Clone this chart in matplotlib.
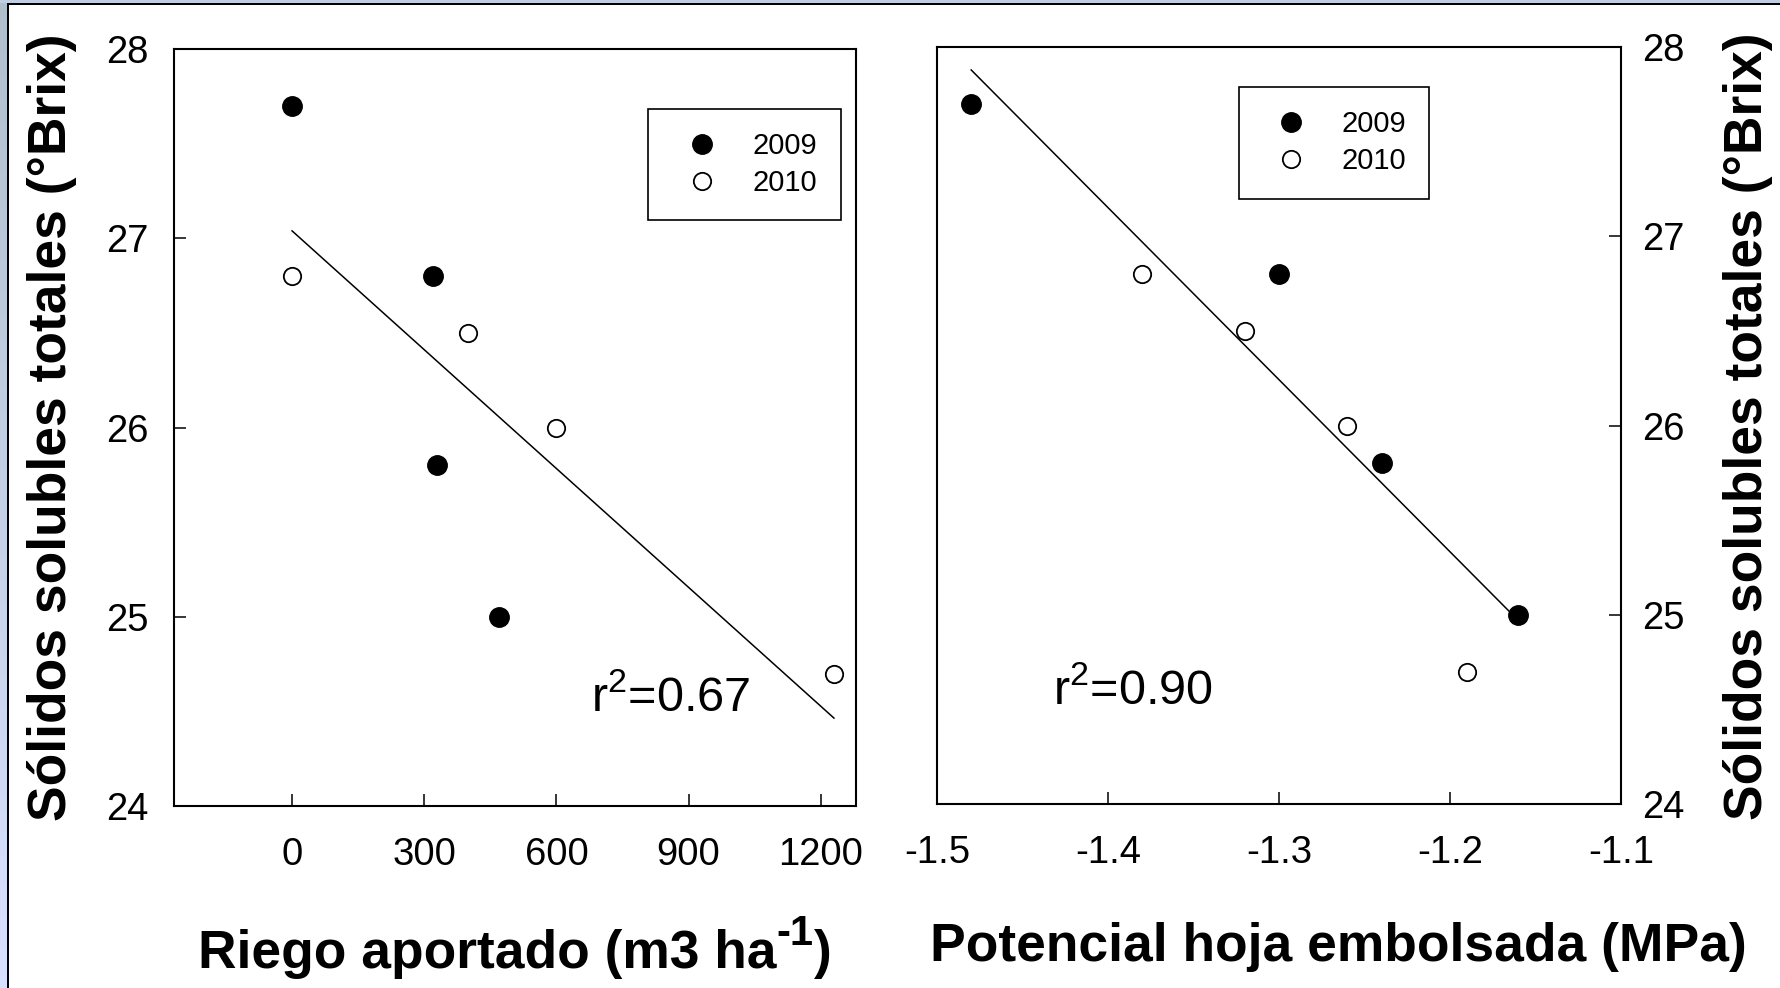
import numpy as np
import matplotlib
matplotlib.use("Agg")
import matplotlib.pyplot as plt
from matplotlib.patches import Rectangle
from matplotlib.lines import Line2D

plt.rcParams['font.family'] = ['Liberation Sans', 'DejaVu Sans']
plt.rcParams['mathtext.fontset'] = 'custom'
plt.rcParams['mathtext.rm'] = 'Liberation Sans'
plt.rcParams['mathtext.it'] = 'Liberation Sans:italic'
plt.rcParams['mathtext.bf'] = 'Liberation Sans:bold'
plt.rcParams['axes.unicode_minus'] = False

# datos
riego_2009 = [0, 320, 330, 470]
riego_2010 = [0, 400, 600, 1230]
pot_2009 = [-1.48, -1.30, -1.24, -1.16]
pot_2010 = [-1.38, -1.32, -1.26, -1.19]
brix_2009 = [27.7, 26.8, 25.8, 25.0]
brix_2010 = [26.8, 26.5, 26.0, 24.7]

years = ['2009', '2010']
r2_riego = '0.67'
r2_pot = '0.90'

y_ticks = [24, 25, 26, 27, 28]
riego_ticks = [0, 300, 600, 900, 1200]
pot_ticks = [-1.5, -1.4, -1.3, -1.2, -1.1]

W, H = 1781, 988
fig = plt.figure(figsize=(W / 100, H / 100), dpi=100)
fig.patch.set_facecolor('white')

# marco de la diapositiva (banda azul + linea negra)
grad = np.linspace(0, 1, H)[:, None, None]
top_c = np.array([0.69, 0.75, 0.80])
bot_c = np.array([0.85, 0.88, 1.00])
band = np.repeat(top_c * (1 - grad) + bot_c * grad, 7, axis=1)
fig.figimage(band, xo=0, yo=0, origin='upper', zorder=0)
fig.figimage(np.ones((3, W, 3)) * np.array([0.76, 0.81, 0.88]), xo=0, yo=H - 3, origin='upper', zorder=0)
fig.add_artist(Rectangle((7 / W, 0), 2 / W, 1 - 3 / H, transform=fig.transFigure, color='black', lw=0))
fig.add_artist(Rectangle((7 / W, 1 - 5 / H), 1 - 7 / W, 2 / H, transform=fig.transFigure, color='black', lw=0))


def px_axes(l, t, r, b):
    return fig.add_axes([l / W, 1 - b / H, (r - l) / W, (b - t) / H])


def scatter_fit(ax, x09, x10, r2, r2_xy):
    ax.plot(x09, brix_2009, 'o', ms=14, color='black', mec='black', zorder=3)
    ax.plot(x10, brix_2010, 'o', ms=12.5, mfc='white', mec='black', mew=1.3, zorder=3)
    xs = np.array(x09 + x10, dtype=float)
    ys = np.array(brix_2009 + brix_2010)
    m, b = np.polyfit(xs, ys, 1)
    xl = np.array([xs.min(), xs.max()])
    ax.plot(xl, m * xl + b, color='black', lw=1.1, zorder=2)
    ax.text(r2_xy[0], r2_xy[1], r'r$^2$=' + r2, fontsize=35, ha='left', va='baseline')
    for s in ax.spines.values():
        s.set_linewidth(1.5)
    ax.set_ylim(24, 28)
    ax.set_yticks(y_ticks)
    ax.tick_params(direction='in', length=8.5, width=1.1, labelsize=27.5, top=False)
    ax.tick_params(axis='x', pad=22)
    handles = [Line2D([], [], ls='none', marker='o', ms=14, color='black'),
               Line2D([], [], ls='none', marker='o', ms=12.5, mfc='white', mec='black', mew=1.3)]
    return handles


# panel izquierdo
ax1 = px_axes(174, 49, 856, 806)
h = scatter_fit(ax1, riego_2009, riego_2010, r2_riego, (678, 24.50))
ax1.set_xlim(-268, 1280)
ax1.set_xticks(riego_ticks)
ax1.tick_params(axis='y', right=False, pad=18)
leg = ax1.legend(h, years, loc='upper left', bbox_to_anchor=(0.695, 0.9207), borderaxespad=0,
                 fancybox=False, edgecolor='black', framealpha=1, fontsize=21, borderpad=0.8,
                 handlelength=2.1, handletextpad=0.7, labelspacing=0.3, numpoints=1)
leg.get_frame().set_linewidth(1.2)

# panel derecho
ax2 = px_axes(937, 47, 1621, 804)
h = scatter_fit(ax2, pot_2009, pot_2010, r2_pot, (-1.432, 24.53))
ax2.set_xlim(-1.5, -1.1)
ax2.set_xticks(pot_ticks)
ax2.set_xticklabels(['%.1f' % t for t in pot_ticks])
ax2.yaxis.tick_right()
ax2.tick_params(axis='y', left=False, right=True, labelleft=False, labelright=True, pad=15)
leg = ax2.legend(h, years, loc='upper left', bbox_to_anchor=(0.4415, 0.947), borderaxespad=0,
                 fancybox=False, edgecolor='black', framealpha=1, fontsize=21, borderpad=0.8,
                 handlelength=2.0, handletextpad=0.7, labelspacing=0.3, numpoints=1)
leg.get_frame().set_linewidth(1.2)

# titulos de ejes
lab_fs = 38.4
ylab = 'Sólidos solubles totales (°Brix)'
fig.text(52 / W, 1 - 427 / H, ylab, rotation=90, ha='center', va='center', fontsize=lab_fs, fontweight='bold')
fig.text(1748 / W, 1 - 426 / H, ylab, rotation=90, ha='center', va='center', fontsize=lab_fs, fontweight='bold')
fig.text(1338 / W, 1 - 961 / H, 'Potencial hoja embolsada (MPa)', ha='center', va='baseline',
         fontsize=lab_fs, fontweight='bold')

# "Riego aportado (m3 ha-1)" con superindice, en tres trozos
renderer = fig.canvas.get_renderer()
base_y = 968
pieces = [('Riego aportado (m3 ha', lab_fs, 0), ('-1', 30, 23), (')', lab_fs, 0)]
texts = []
x = 0.0
for s, fs, rise in pieces:
    t = fig.text(x / W, 1 - (base_y - rise) / H, s, ha='left', va='baseline', fontsize=fs, fontweight='bold')
    x += t.get_window_extent(renderer).width + (1 if rise else 0)
    texts.append((t, rise))
shift = 515 - x / 2
for t, rise in texts:
    px = t.get_position()[0] * W + shift
    t.set_position((px / W, 1 - (base_y - rise) / H))

fig.savefig('out.png', dpi=100)
